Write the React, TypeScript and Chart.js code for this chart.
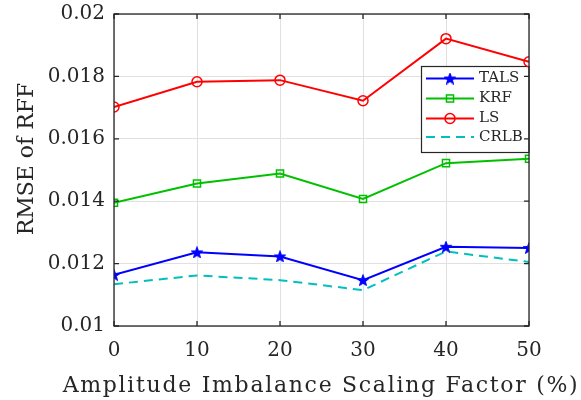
import React, { useEffect, useRef } from "react";
import { Chart, registerables } from "chart.js";

Chart.register(...registerables);

const xValues = [0, 10, 20, 30, 40, 50];
const talsValues = [0.01164, 0.01236, 0.01223, 0.01147, 0.01254, 0.0125];
const krfValues = [0.01395, 0.01457, 0.01489, 0.01407, 0.01522, 0.01536];
const lsValues = [0.01702, 0.01783, 0.01788, 0.01722, 0.01921, 0.01847];
const crlbValues = [0.01134, 0.01162, 0.01147, 0.01115, 0.01239, 0.01205];
const seriesNames = ["TALS", "KRF", "LS", "CRLB"];
const xTitle = "Amplitude Imbalance Scaling Factor (%)";
const yTitle = "RMSE of RFF";

const FONT = "'DejaVu Serif', 'Liberation Serif', serif";
const AXIS_COLOR = "#262626";

function makeStar(color: string, size: number): HTMLCanvasElement {
  const c = document.createElement("canvas");
  c.width = size;
  c.height = size;
  const ctx = c.getContext("2d")!;
  const cx = size / 2;
  const cy = size / 2 + 0.6;
  const R = size / 2;
  const r = R * 0.42;
  ctx.beginPath();
  for (let i = 0; i < 10; i++) {
    const ang = -Math.PI / 2 + (i * Math.PI) / 5;
    const rad = i % 2 === 0 ? R : r;
    const px = cx + rad * Math.cos(ang);
    const py = cy + rad * Math.sin(ang);
    if (i === 0) ctx.moveTo(px, py);
    else ctx.lineTo(px, py);
  }
  ctx.closePath();
  ctx.fillStyle = color;
  ctx.fill();
  ctx.strokeStyle = color;
  ctx.lineWidth = 1;
  ctx.stroke();
  return c;
}

const toPts = (vals: number[]) => vals.map((y, i) => ({ x: xValues[i], y }));

const boxPlugin = {
  id: "boxPlugin",
  afterDraw(chart: any) {
    const { ctx, chartArea } = chart;
    const { left, right, top, bottom } = chartArea;
    const xs = chart.scales.x;
    const ys = chart.scales.y;
    ctx.save();
    ctx.strokeStyle = AXIS_COLOR;
    ctx.lineWidth = 1.3;
    const tl = 5;
    ctx.beginPath();
    xs.ticks.forEach((t: any) => {
      const px = xs.getPixelForValue(t.value);
      ctx.moveTo(px, bottom);
      ctx.lineTo(px, bottom - tl);
      ctx.moveTo(px, top);
      ctx.lineTo(px, top + tl);
    });
    ys.ticks.forEach((t: any) => {
      const py = ys.getPixelForValue(t.value);
      ctx.moveTo(left, py);
      ctx.lineTo(left + tl, py);
      ctx.moveTo(right, py);
      ctx.lineTo(right - tl, py);
    });
    ctx.stroke();
    ctx.strokeRect(left, top, right - left, bottom - top);

    // axis titles
    ctx.fillStyle = AXIS_COLOR;
    ctx.font = `22px ${FONT}`;
    ctx.textAlign = "center";
    ctx.textBaseline = "alphabetic";
    (ctx as any).letterSpacing = "1.7px";
    ctx.fillText(xTitle, 321, 392);
    (ctx as any).letterSpacing = "0px";
    ctx.save();
    ctx.translate(33, 159);
    ctx.rotate(-Math.PI / 2);
    ctx.font = `22px ${FONT}`;
    ctx.fillText(yTitle, 0, 0);
    ctx.restore();
    ctx.restore();
  },
};

const legendPlugin = {
  id: "legendPlugin",
  beforeDatasetsDraw(chart: any) {
    const { ctx } = chart;
    const bx = 421.5;
    const by = 66.5;
    const bw = 107.5;
    const bh = 86;
    ctx.save();
    ctx.fillStyle = "#ffffff";
    ctx.fillRect(bx, by, bw, bh);
    ctx.strokeStyle = AXIS_COLOR;
    ctx.lineWidth = 1.2;
    ctx.strokeRect(bx, by, bw, bh);
    const rows = [78.5, 98.5, 118.5, 137];
    chart.data.datasets.forEach((ds: any, i: number) => {
      const y = rows[i];
      const x0 = 426;
      const x1 = 474;
      ctx.strokeStyle = ds.borderColor;
      ctx.lineWidth = ds.borderWidth;
      ctx.setLineDash(ds.borderDash || []);
      ctx.beginPath();
      ctx.moveTo(x0, y);
      ctx.lineTo(x1, y);
      ctx.stroke();
      ctx.setLineDash([]);
      const mx = (x0 + x1) / 2;
      const ps = ds.pointStyle;
      if (ps && ps !== false) {
        if (typeof ps === "object") {
          ctx.drawImage(ps, mx - ps.width / 2, y - ps.height / 2);
        } else if (ps === "rect") {
          const s = ds.pointRadius * Math.SQRT1_2;
          ctx.lineWidth = ds.pointBorderWidth;
          ctx.strokeRect(mx - s, y - s, 2 * s, 2 * s);
        } else if (ps === "circle") {
          ctx.lineWidth = ds.pointBorderWidth;
          ctx.beginPath();
          ctx.arc(mx, y, ds.pointRadius, 0, Math.PI * 2);
          ctx.stroke();
        }
      }
      ctx.fillStyle = AXIS_COLOR;
      ctx.font = `15px ${FONT}`;
      ctx.textBaseline = "middle";
      ctx.textAlign = "left";
      ctx.fillText(ds.label, 479, y);
    });
    ctx.restore();
  },
};

export default function App() {
  const ref = useRef<HTMLCanvasElement | null>(null);
  useEffect(() => {
    if (!ref.current) return;
    const star = makeStar("#0000ff", 12);
    const chart = new Chart(ref.current, {
      type: "line",
      data: {
        datasets: [
          {
            label: seriesNames[0],
            data: toPts(talsValues),
            borderColor: "#0000ff",
            backgroundColor: "#0000ff",
            borderWidth: 2,
            pointStyle: star as any,
            pointRadius: 6,
            order: 1,
          },
          {
            label: seriesNames[1],
            data: toPts(krfValues),
            borderColor: "#00c000",
            backgroundColor: "transparent",
            borderWidth: 2,
            pointStyle: "rect",
            pointRadius: 5,
            pointBorderWidth: 1.5,
            pointBackgroundColor: "rgba(0,0,0,0)",
            order: 3,
          },
          {
            label: seriesNames[2],
            data: toPts(lsValues),
            borderColor: "#ff0000",
            backgroundColor: "transparent",
            borderWidth: 2,
            pointStyle: "circle",
            pointRadius: 5,
            pointBorderWidth: 1.5,
            pointBackgroundColor: "rgba(0,0,0,0)",
            order: 4,
          },
          {
            label: seriesNames[3],
            data: toPts(crlbValues),
            borderColor: "#00bfbf",
            backgroundColor: "transparent",
            borderWidth: 2,
            borderDash: [9, 6],
            pointStyle: false as any,
            pointRadius: 0,
            order: 2,
          },
        ],
      },
      options: {
        responsive: false,
        animation: false,
        devicePixelRatio: 1,
        layout: { padding: { top: 14, right: 52, left: 0, bottom: 0 } },
        plugins: { legend: { display: false }, tooltip: { enabled: false } },
        elements: { line: { tension: 0 } },
        scales: {
          x: {
            type: "linear",
            min: 0,
            max: 50,
            ticks: {
              stepSize: 10,
              color: AXIS_COLOR,
              padding: 13,
              font: { family: FONT, size: 20 },
              maxRotation: 0,
            },
            grid: { color: "#e0e0e0", lineWidth: 1, drawTicks: false },
            border: { display: false },
            afterFit(scale: any) {
              scale.height = 74;
              scale.paddingLeft = 0;
              scale.paddingRight = 0;
            },
          },
          y: {
            min: 0.01,
            max: 0.02,
            ticks: {
              stepSize: 0.002,
              color: AXIS_COLOR,
              padding: 9,
              font: { family: FONT, size: 20 },
              callback: (v: any) => String(Number(Number(v).toFixed(4))),
            },
            grid: { color: "#e0e0e0", lineWidth: 1, drawTicks: false },
            border: { display: false },
            afterFit(scale: any) {
              scale.width = 114;
              scale.paddingTop = 0;
              scale.paddingBottom = 0;
            },
          },
        },
      },
      plugins: [legendPlugin, boxPlugin],
    });
    return () => chart.destroy();
  }, []);
  return (
    <div style={{ position: "absolute", left: 0, top: 0, width: 581, height: 400, background: "#fff" }}>
      <canvas ref={ref} width={581} height={400} style={{ width: 581, height: 400, display: "block" }} />
    </div>
  );
}
